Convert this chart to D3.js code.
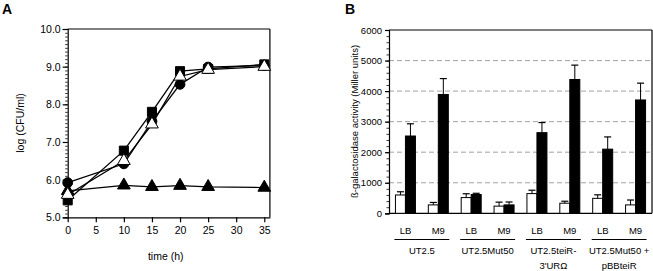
<!DOCTYPE html>
<html><head><meta charset="utf-8">
<script src="https://cdn.jsdelivr.net/npm/d3@7"></script>
<style>body{margin:0;background:#fff}text{font-family:"Liberation Sans",Arial,sans-serif}</style>
</head><body><svg id="c" width="653" height="271"></svg>
<script>
// Panel A data
const times = [0, 10, 15, 20, 25, 35];
const circleVals = [5.92, 6.42, 7.55, 8.53, 8.99, 9.03];
const squareVals = [5.45, 6.77, 7.8, 8.88, 8.94, 9.06];
const openTriVals = [5.6, 6.5, 7.47, 8.74, 8.92, 9.0];
const filledTriVals = [5.7, 5.85, 5.81, 5.84, 5.81, 5.79];
const yTicksA = [5, 6, 7, 8, 9, 10];
const xTicksA = [0, 5, 10, 15, 20, 25, 30, 35];

// Panel B data
const conditions = ["UT2.5 LB","UT2.5 M9","Mut50 LB","Mut50 M9","teiR LB","teiR M9","pBB LB","pBB M9"];
const condLabels = ["LB","M9","LB","M9","LB","M9","LB","M9"];
const strains = [["UT2.5"],["UT2.5Mut50"],["UT2.5teiR-","3'URΩ"],["UT2.5Mut50 +","pBBteiR"]];
const whiteVals = [600, 275, 515, 235, 645, 330, 490, 275];
const whiteErr = [105, 80, 125, 130, 110, 65, 115, 160];
const blackVals = [2530, 3890, 615, 275, 2640, 4380, 2100, 3710];
const blackErr = [400, 520, 40, 95, 330, 470, 400, 550];
const yTicksB = [0, 1000, 2000, 3000, 4000, 5000, 6000];

const svg = d3.select("#c");

// Panel labels
svg.append("text").attr("x", 2).attr("y", 14).attr("font-size", 14).attr("font-weight", "bold").text("A");
svg.append("text").attr("x", 345).attr("y", 14).attr("font-size", 14).attr("font-weight", "bold").text("B");

// ---------- Panel A ----------
const xA = d3.scaleLinear().domain([0, 36]).range([67.7, 269.9]);
const yA = d3.scaleLinear().domain([5, 10]).range([217.3, 29]);
const gA = svg.append("g");
gA.append("line").attr("x1", xA(0)).attr("x2", xA(36)).attr("y1", yA(10)).attr("y2", yA(10)).attr("stroke", "#000").attr("stroke-width", 1.2);
gA.append("line").attr("x1", xA(36)).attr("x2", xA(36)).attr("y1", yA(10)).attr("y2", yA(5)).attr("stroke", "#000").attr("stroke-width", 1.2);
const minorA = d3.range(50, 101).map(d => d / 10);
gA.append("g").attr("transform", `translate(${xA(0)},0)`).call(d3.axisLeft(yA).tickValues(minorA).tickSize(2.5).tickFormat(""))
  .call(g => { g.select(".domain").remove(); g.selectAll("line").attr("stroke-width", 0.8); });
gA.append("g").attr("transform", `translate(${xA(0)},0)`).call(d3.axisLeft(yA).tickValues(yTicksA).tickSize(5).tickFormat(d3.format(".1f")))
  .call(g => { g.select(".domain").attr("stroke-width", 1.2); g.selectAll("line").attr("stroke-width", 1.2); g.selectAll("text").attr("font-size", 10.5).attr("font-family", '"Liberation Sans",Arial').attr("x", -7); });
gA.append("g").attr("transform", `translate(0,${yA(5)})`).call(d3.axisBottom(xA).tickValues(xTicksA).tickSize(5).tickSizeOuter(0))
  .call(g => { g.select(".domain").attr("stroke-width", 1.2); g.selectAll("line").attr("stroke-width", 1.2); g.selectAll("text").attr("font-size", 10.5).attr("font-family", '"Liberation Sans",Arial').attr("y", 9); });
gA.append("text").attr("x", 165.7).attr("y", 260).attr("text-anchor", "middle").attr("font-size", 10.5).text("time (h)");
gA.append("text").attr("transform", "translate(24,123) rotate(-90)").attr("text-anchor", "middle").attr("font-size", 10.5).text("log (CFU/ml)");

const line = d3.line().x((d, i) => xA(times[i])).y(d => yA(d));
[filledTriVals, circleVals, squareVals, openTriVals].forEach(s =>
  gA.append("path").attr("d", line(s)).attr("fill", "none").attr("stroke", "#000").attr("stroke-width", 1.3));
const tri = d3.symbol().type(d3.symbolTriangle).size(70);
const sq = d3.symbol().type(d3.symbolSquare).size(82);
const ci = d3.symbol().type(d3.symbolCircle).size(76);
function markers(vals, sym, fill) {
  gA.selectAll(null).data(vals).enter().append("path").attr("d", sym)
    .attr("transform", (d, i) => `translate(${xA(times[i])},${yA(d)})`)
    .attr("fill", fill).attr("stroke", "#000").attr("stroke-width", 1);
}
markers(filledTriVals, tri, "#000");
markers(circleVals, ci, "#000");
markers(squareVals, sq, "#000");
markers(openTriVals, tri, "#fff");

// ---------- Panel B ----------
const xB = d3.scaleBand().domain(conditions).range([389, 652]).padding(0);
const yB = d3.scaleLinear().domain([0, 6000]).range([213.3, 30]);
const gB = svg.append("g");
const bw = 10;
gB.selectAll(null).data(yTicksB.filter(d => d > 0 && d < 6000)).enter().append("line")
  .attr("x1", 389).attr("x2", 652).attr("y1", d => yB(d)).attr("y2", d => yB(d))
  .attr("stroke", "#999").attr("stroke-dasharray", "5,3").attr("stroke-width", 0.9);
gB.append("line").attr("x1", 389).attr("x2", 652).attr("y1", yB(6000)).attr("y2", yB(6000)).attr("stroke", "#000").attr("stroke-width", 1.2);
gB.append("line").attr("x1", 652).attr("x2", 652).attr("y1", yB(6000)).attr("y2", yB(0)).attr("stroke", "#000").attr("stroke-width", 1.2);
gB.append("g").attr("transform", "translate(389,0)").call(d3.axisLeft(yB).tickValues(d3.range(0, 6001, 200)).tickSize(2.5).tickFormat(""))
  .call(g => { g.select(".domain").remove(); g.selectAll("line").attr("stroke-width", 0.8); });
gB.append("g").attr("transform", "translate(389,0)").call(d3.axisLeft(yB).tickValues(yTicksB).tickSize(4).tickFormat(d3.format("d")))
  .call(g => { g.select(".domain").attr("stroke-width", 1.2); g.selectAll("line").attr("stroke-width", 1.2); g.selectAll("text").attr("font-size", 9.5).attr("font-family", '"Liberation Sans",Arial').attr("x", -7); });
gB.append("line").attr("x1", 389).attr("x2", 652).attr("y1", yB(0)).attr("y2", yB(0)).attr("stroke", "#000").attr("stroke-width", 1.2);
gB.append("text").attr("transform", "translate(358,121.5) rotate(-90)").attr("text-anchor", "middle").attr("font-size", 9.5).text("ß-galactosidase activity (Miller units)");

const cx = c => xB(c) + xB.bandwidth() / 2;
gB.selectAll(null).data(conditions).enter().append("rect")
  .attr("x", c => cx(c) - bw).attr("width", bw)
  .attr("y", (c, i) => yB(whiteVals[i])).attr("height", (c, i) => yB(0) - yB(whiteVals[i]))
  .attr("fill", "#fff").attr("stroke", "#000").attr("stroke-width", 1);
gB.selectAll(null).data(conditions).enter().append("rect")
  .attr("x", c => cx(c)).attr("width", bw)
  .attr("y", (c, i) => yB(blackVals[i])).attr("height", (c, i) => yB(0) - yB(blackVals[i]))
  .attr("fill", "#000").attr("stroke", "#000").attr("stroke-width", 1);
function err(vals, errs, off) {
  conditions.forEach((c, i) => {
    const x = cx(c) + off;
    gB.append("line").attr("x1", x).attr("x2", x).attr("y1", yB(vals[i])).attr("y2", yB(vals[i] + errs[i])).attr("stroke", "#000").attr("stroke-width", 1);
    gB.append("line").attr("x1", x - 3.5).attr("x2", x + 3.5).attr("y1", yB(vals[i] + errs[i])).attr("y2", yB(vals[i] + errs[i])).attr("stroke", "#000").attr("stroke-width", 1.2);
  });
}
err(whiteVals, whiteErr, -bw / 2);
err(blackVals, blackErr, bw / 2);
gB.selectAll(null).data(conditions).enter().append("text")
  .attr("x", c => cx(c)).attr("y", 234).attr("text-anchor", "middle").attr("font-size", 9.5)
  .text((c, i) => condLabels[i]);
strains.forEach((s, k) => {
  const a = conditions[2 * k], b = conditions[2 * k + 1];
  const mid = (cx(a) + cx(b)) / 2;
  gB.append("line").attr("x1", cx(a) - 11).attr("x2", cx(b) + 11).attr("y1", 239.5).attr("y2", 239.5).attr("stroke", "#000").attr("stroke-width", 1);
  s.forEach((t, j) => gB.append("text").attr("x", mid).attr("y", 253.5 + j * 15).attr("text-anchor", "middle").attr("font-size", 9.5).text(t));
});
</script></body></html>
